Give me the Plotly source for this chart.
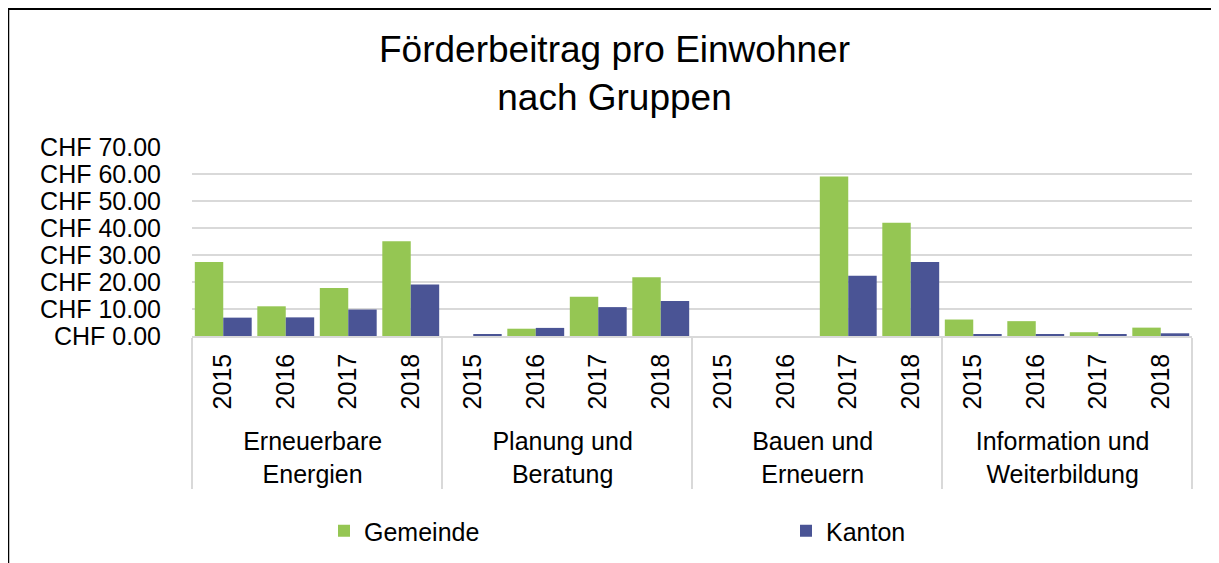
import plotly.graph_objects as go

groups = ["Erneuerbare<br>Energien", "Planung und<br>Beratung", "Bauen und<br>Erneuern", "Information und<br>Weiterbildung"]
years = ["2015", "2016", "2017", "2018"]

gemeinde = [27.4, 11.0, 17.8, 35.1,
            0.0, 2.7, 14.5, 21.8,
            0.0, 0.0, 59.1, 41.9,
            6.1, 5.5, 1.4, 3.1]
kanton = [6.8, 6.9, 9.8, 19.1,
          0.6, 3.0, 10.7, 13.0,
          0.0, 0.0, 22.3, 27.4,
          0.6, 0.6, 0.6, 1.0]

y_ticks = [0, 10, 20, 30, 40, 50, 60, 70]
y_ticktext = ["CHF %.2f" % v for v in y_ticks]

outer = [g for g in groups for _ in years]
inner = [y for _ in groups for y in years]

GREEN = "#95C653"
BLUE = "#4A5495"
FONT = "Liberation Sans, Arial, sans-serif"

# the page body adds an 8px margin; figure coordinates are screen - 8
OFF = 8
W, H = 1219 - OFF, 563 - OFF
L, R, T, B = 192 - OFF, 1192 - OFF, 147 - OFF, 336 - OFF

def px(xp):
    return (xp - L) / (R - L)

def py(yp):
    return (B - yp) / (B - T)

fig = go.Figure()
fig.add_trace(go.Bar(x=[outer, inner], y=gemeinde, name="Gemeinde", legend="legend",
                     marker=dict(color=GREEN, line=dict(width=0))))
fig.add_trace(go.Bar(x=[outer, inner], y=kanton, name="Kanton", legend="legend2",
                     marker=dict(color=BLUE, line=dict(width=0))))

legend_common = dict(orientation="h", xanchor="left", yanchor="middle",
                     font=dict(family=FONT, size=25, color="black"),
                     bgcolor="rgba(0,0,0,0)", itemclick=False, itemdoubleclick=False,
                     borderwidth=0)

fig.update_layout(
    width=W, height=H,
    margin=dict(l=L, r=W - R, t=T, b=H - B, autoexpand=False),
    paper_bgcolor="white", plot_bgcolor="white",
    font=dict(family=FONT, size=25, color="black"),
    title=dict(text="Förderbeitrag pro Einwohner<br>nach Gruppen",
               font=dict(family=FONT, size=37, color="black"),
               x=606.5 / W, xanchor="center", y=1 - 54 / H, yanchor="top"),
    barmode="group", bargap=0.09, bargroupgap=0,
    showlegend=True,
    legend=dict(x=px(316), y=py(523), **legend_common),
    legend2=dict(x=px(778), y=py(523), **legend_common),
    xaxis=dict(type="multicategory", tickangle=-90, showline=True, linecolor="#D9D9D9",
               linewidth=1.5, showgrid=False, ticks="", showdividers=True,
               dividercolor="#D9D9D9", dividerwidth=1.5, ticklabelstandoff=6,
               tickfont=dict(family=FONT, size=25, color="black")),
    yaxis=dict(range=[0, 70], tickvals=y_ticks, ticktext=y_ticktext,
               showgrid=True, gridcolor="#D9D9D9", gridwidth=1.5, zeroline=False,
               showline=False, ticks="", ticklabelstandoff=30,
               tickfont=dict(family=FONT, size=25, color="black")),
    shapes=[
        dict(type="line", xref="paper", yref="paper", x0=px(0), x1=px(W), y0=py(1), y1=py(1),
             line=dict(color="black", width=2)),
        dict(type="line", xref="paper", yref="paper", x0=px(0), x1=px(0), y0=py(0), y1=py(H),
             line=dict(color="black", width=2.5)),
    ],
)

fig.write_html("out.html")
